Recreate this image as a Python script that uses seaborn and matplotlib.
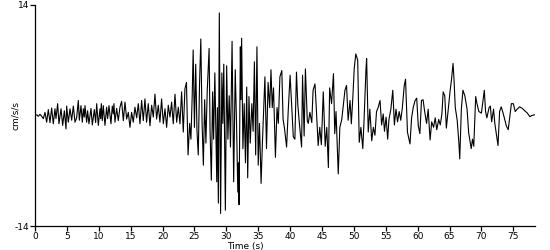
import matplotlib
matplotlib.use("Agg")
import matplotlib.pyplot as plt
import seaborn as sns
import pandas as pd

# Time (s) of the read-off samples
time_s = [
    0.0, 0.26, 0.52, 0.78, 1.04, 1.31, 1.57, 1.83, 2.09, 2.35, 2.61, 2.87, 3.13, 3.29, 3.55,
    3.76, 4.08, 4.34, 4.6, 4.86, 4.96, 5.22, 5.49, 5.75, 6.01, 6.27, 6.53, 6.79, 6.95, 7.21,
    7.42, 7.58, 7.73, 7.84, 8.1, 8.25, 8.46, 8.78, 8.99, 9.3, 9.51, 9.67, 9.93, 10.19, 10.29,
    10.4, 10.55, 10.71, 10.97, 11.23, 11.39, 11.6, 11.91, 12.12, 12.28, 12.38, 12.54, 12.8, 13.06, 13.32,
    13.58, 13.85, 14.11, 14.37, 14.63, 14.89, 15.15, 15.41, 15.67, 15.94, 16.2, 16.46, 16.72, 16.98, 17.24,
    17.5, 17.76, 18.03, 18.29, 18.55, 18.81, 19.07, 19.33, 19.59, 19.85, 20.12, 20.38, 20.64, 20.9, 21.16,
    21.42, 21.68, 21.95, 22.21, 22.47, 22.73, 22.99, 23.25, 23.51, 23.75,
    24.0, 24.25, 24.45, 24.65, 24.8, 25.0, 25.2, 25.4, 25.6, 25.8, 26.0, 26.2, 26.4, 26.6, 26.8,
    27.0, 27.3, 27.45, 27.65, 27.85, 28.0, 28.2, 28.4, 28.5, 28.6, 28.75, 28.9, 29.1, 29.3, 29.45,
    29.6, 29.85, 30.05, 30.25, 30.45, 30.65, 30.9, 31.15, 31.4, 31.6, 31.8, 31.9, 32.0, 32.2, 32.3,
    32.4, 32.6, 32.8, 33.0, 33.2, 33.35, 33.55, 33.75, 34.0, 34.2, 34.4, 34.6, 34.8, 35.0, 35.2,
    35.45, 35.65, 35.85, 36.05, 36.3, 36.55, 36.8, 37.0, 37.2, 37.4, 37.7, 37.95, 38.15, 38.4, 38.7,
    38.9, 39.1, 39.45, 39.7, 40.0, 40.2, 40.5, 40.75, 41.0, 41.2, 41.4, 41.8, 41.95, 42.2, 42.4,
    42.7, 42.85, 43.1, 43.4, 43.6, 43.9, 44.1, 44.4, 44.65, 44.9, 45.2, 45.5, 45.75, 46.0, 46.2,
    46.5, 46.8, 47.0, 47.2, 47.55, 47.8, 48.1, 48.3, 48.6, 48.85, 49.1, 49.4, 49.6, 49.85, 50.05,
    50.3, 50.6, 50.84, 51.1, 51.4, 51.6, 51.9, 52.0, 52.25, 52.5, 52.8, 53.05, 53.3, 53.55, 53.8,
    54.1, 54.35, 54.6, 54.8, 55.05, 55.3, 55.5, 55.8, 56.1, 56.35, 56.6, 56.85, 57.1, 57.35, 57.6,
    57.9, 58.1, 58.4, 58.8, 59.05, 59.3, 59.6, 59.85, 60.1, 60.35, 60.6, 60.85, 61.1, 61.4, 61.65,
    61.95, 62.2, 62.5, 62.75, 63.0, 63.3, 63.55, 63.8, 64.0, 64.25, 64.5, 64.8, 65.1, 65.3, 65.55,
    65.7, 65.9, 66.2, 66.45, 66.6, 66.85, 67.1, 67.4, 67.75, 68.0, 68.4, 68.6, 68.8, 69.1, 69.3,
    69.6, 70.0, 70.45, 70.65, 70.85, 71.2, 71.4, 71.6, 71.9, 72.1, 72.6, 72.85, 73.1, 73.4, 73.9,
    74.2, 74.5, 74.7, 75.0, 75.3, 75.6, 76.0, 76.4, 76.8, 77.2, 77.6, 77.9, 78.4,
]

# Acceleration (cm/s/s)
accel = [
    0.0, 0.1, -0.1, 0.15, -0.1, -0.4, 0.4, -0.85, 0.75, -0.9, 0.95, -1.05, 0.85, -0.4, 1.5,
    -1.05, 0.85, -1.25, 0.6, -1.7, 1.2, -0.85, 0.85, -0.6, 1.2, -0.85, -0.3, 1.9, -0.6, 1.25,
    -0.85, 0.85, -0.2, 1.25, -0.85, 0.6, -1.05, 0.9, -1.2, 0.75, -0.9, 1.5, -1.25, 0.85, -0.4,
    1.5, -0.65, 1.25, -1.25, 1.05, -0.4, 1.25, -1.05, 1.2, 0.2, 1.5, -0.85, 0.9, -0.65, 1.05,
    1.8, -0.65, 1.7, -0.45, 0.4, -1.5, 0.4, -0.85, 1.05, -0.3, 1.5, -1.05, 1.9, -0.65, 2.1,
    -0.85, 1.5, -1.3, 1.3, -0.2, 2.7, -0.45, 1.3, -0.85, 2.1, -1.05, 0.85, -1.5, 1.3, -0.2,
    1.7, -1.05, 2.7, -0.85, 1.05, -1.05, 3.0, -2.1, 3.4, 4.2,
    -5.0, -1.0, -3.0, 2.5, 8.3, -1.5, 6.5, -2.0, -5.0, 4.0, 9.7, -1.0, -6.3, 2.0, -3.5,
    3.0, 8.5, -2.0, -8.2, 3.0, -3.0, 5.4, -4.0, -8.4, 1.0, -11.1, 13.0, -12.4, 5.4, -1.0,
    6.5, -12.0, 6.3, -3.0, 2.5, -4.0, 9.4, -8.4, 5.8, -1.0, -9.7, -6.0, -11.3, 8.7, 2.0,
    9.8, -4.2, 1.5, -6.0, 3.6, -7.9, 2.4, -3.5, 1.5, -2.0, 6.8, -5.0, 8.7, -6.3, -1.0,
    -8.6, -3.6, 0.5, 4.9, -4.2, 4.2, 1.0, 5.8, 1.0, 3.5, -5.3, 1.0, -1.0, 4.9, 5.7,
    -0.5, -1.5, -4.0, 0.5, 5.1, 2.0, -2.7, -3.0, 5.5, 1.5, -0.5, -4.0, 5.1, -2.6, 5.9,
    -0.7, -1.0, 0.4, -0.9, 3.2, 4.0, 1.0, -3.8, -1.5, -3.7, 3.0, -3.9, -1.5, -6.6, 3.5,
    1.5, 5.3, -2.3, 0.5, -7.4, -1.5, -0.5, 1.0, 3.2, 3.8, -0.6, 1.9, -1.05, 2.5, 5.9,
    7.8, 7.0, -3.4, -1.5, -4.2, -0.5, 5.9, 7.2, -2.1, 0.8, -3.2, -1.5, -2.5, 0.5, 1.0,
    1.9, -1.2, 0.2, -2.0, -0.2, -3.0, -0.5, 0.8, 3.2, -1.2, 0.8, -0.8, 0.5, -0.6, 1.0,
    3.8, 4.6, -2.1, -3.6, -0.3, 1.0, 1.9, 2.2, -1.3, -2.3, 1.9, 2.0, 0.5, -1.0, 0.8,
    -3.1, -0.8, -1.5, -0.3, -1.8, -0.5, -1.2, 0.2, 3.0, 2.5, -1.6, 0.8, 3.2, 4.5, 6.6,
    4.6, 1.0, -0.6, -3.3, -5.5, 0.8, 3.2, 2.5, 0.8, -2.2, -4.2, -3.0, -3.9, 2.4, 1.5,
    0.5, 0.3, 3.2, 0.5, -0.3, 1.0, 1.2, -0.8, 0.8, -1.0, -3.8, 0.5, 1.1, 0.3, -1.3,
    -1.8, 0.2, 1.5, 1.5, 0.5, 0.8, 1.1, 0.9, 0.6, 0.3, -0.15, 0.0, 0.1,
]

x_ticks = [0, 5, 10, 15, 20, 25, 30, 35, 40, 45, 50, 55, 60, 65, 70, 75]
y_ticks = [-14, 14]

df = pd.DataFrame({"Time (s)": time_s, "cm/s/s": accel})

sns.set_style("ticks")
plt.rcParams["font.family"] = ["DejaVu Sans"]

fig = plt.figure(figsize=(5.5, 2.5), dpi=100)
ax = fig.add_axes([35 / 550, 24 / 250, 500 / 550, 221 / 250])

sns.lineplot(data=df, x="Time (s)", y="cm/s/s", ax=ax, color="black",
             linewidth=0.8, estimator=None, sort=False)

ax.set_xlim(0, 78.4)
ax.set_ylim(-14, 14)
ax.set_xticks(x_ticks)
ax.set_yticks(y_ticks)
ax.set_yticklabels([str(v) for v in y_ticks])

sns.despine(ax=ax)
for side in ("left", "bottom"):
    ax.spines[side].set_color("black")
    ax.spines[side].set_linewidth(0.9)

ax.tick_params(axis="both", direction="out", length=3.5, width=0.9, color="black",
               labelsize=6.5, labelcolor="black", pad=0.5)

ax.set_xlabel("Time (s)", fontsize=6.5, color="black", va="center")
ax.set_ylabel("cm/s/s", fontsize=6.5, color="black")
ax.xaxis.set_label_coords(0.42, -0.095)
ax.yaxis.set_label_coords(-0.03, 0.5)

fig.savefig("out.png", dpi=100, facecolor="white")
